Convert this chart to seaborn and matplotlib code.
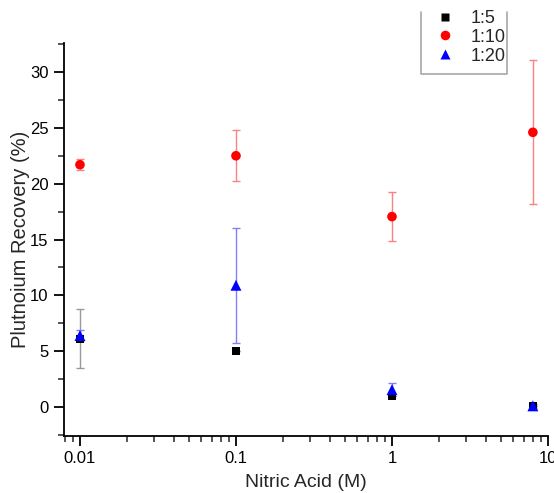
import matplotlib
matplotlib.use("Agg")
import matplotlib.pyplot as plt
import seaborn as sns
import pandas as pd
import numpy as np
from matplotlib.lines import Line2D
from matplotlib.ticker import FixedLocator, MultipleLocator, LogLocator, NullFormatter

sns.set_style("ticks")
plt.rcParams['font.family'] = ['Liberation Sans', 'DejaVu Sans']

acid = [0.01, 0.1, 1, 8]
ratios = ["1:5", "1:10", "1:20"]
rec_1_5 = [6.1, 5.05, 0.95, 0.05]
err_1_5 = [2.65, 0.0, 0.0, 0.0]
rec_1_10 = [21.7, 22.5, 17.05, 24.6]
err_1_10 = [0.5, 2.3, 2.2, 6.45]
rec_1_20 = [6.4, 10.9, 1.55, 0.1]
err_1_20 = [0.45, 5.15, 0.6, 0.15]

colors = {"1:5": "black", "1:10": "red", "1:20": "blue"}
ecolors = {"1:5": "#999999", "1:10": "#ff8080", "1:20": "#8080ff"}
markers = {"1:5": "s", "1:10": "o", "1:20": "^"}
msizes = {"1:5": 34, "1:10": 48, "1:20": 62}

df = pd.DataFrame({
    "acid": acid * 3,
    "recovery": rec_1_5 + rec_1_10 + rec_1_20,
    "err": err_1_5 + err_1_10 + err_1_20,
    "ratio": [r for r in ratios for _ in acid],
})

W, H = 554, 493
fig = plt.figure(figsize=(W / 100, H / 100), dpi=100)
ax = fig.add_axes([64 / W, (H - 436) / H, (548 - 64) / W, (436 - 43) / H])

for r in ratios:
    sub = df[df.ratio == r]
    ax.errorbar(sub.acid, sub.recovery, yerr=sub.err, fmt="none",
                ecolor=ecolors[r], elinewidth=1, capsize=3, capthick=1, zorder=2)

sns.scatterplot(data=df, x="acid", y="recovery", hue="ratio", style="ratio",
                size="ratio", sizes=msizes,
                palette=colors, markers=markers, edgecolor="none",
                ax=ax, zorder=3, legend=True)

ax.set_xscale("log")
ax.set_xlim(0.0079, 10)
ax.set_ylim(-2.6, 32.6)
ax.xaxis.set_major_locator(FixedLocator([0.01, 0.1, 1, 10]))
ax.set_xticklabels(["0.01", "0.1", "1", "10"])
ax.xaxis.set_minor_locator(LogLocator(base=10, subs=np.arange(2, 10)))
ax.xaxis.set_minor_formatter(NullFormatter())
ax.yaxis.set_major_locator(MultipleLocator(5))
ax.yaxis.set_minor_locator(MultipleLocator(2.5))

for s in ["top", "right"]:
    ax.spines[s].set_visible(False)
for s in ["left", "bottom"]:
    ax.spines[s].set_linewidth(1.3)
    ax.spines[s].set_color("black")
ax.tick_params(axis="both", which="major", direction="out", length=7, width=1.3,
               labelsize=12, colors="black", pad=4)
ax.tick_params(axis="both", which="minor", direction="out", length=4, width=1.1)

ax.set_xlabel("Nitric Acid (M)", fontsize=14)
ax.set_ylabel("Plutnoium Recovery (%)", fontsize=14.5)
ax.xaxis.set_label_coords(0.5, (436 - 474) / (436 - 43))
ax.yaxis.set_label_coords((30 - 64) / (548 - 64), 0.5)

h, l = ax.get_legend_handles_labels()
leg = ax.legend(h, l, loc="upper left", bbox_to_anchor=(438 / W, 1 - 10 / H),
                bbox_transform=fig.transFigure, frameon=False,
                fontsize=13, handletextpad=1.0, borderpad=0, labelspacing=0.1,
                handlelength=0.8, borderaxespad=0)

# legend box edges (top edge not shown in the reference)
xs = [421 / W, 421 / W, 507 / W, 507 / W]
ys = [1 - 12 / H, 1 - 74 / H, 1 - 74 / H, 1 - 12 / H]
fig.add_artist(Line2D(xs, ys, transform=fig.transFigure, color="#a8a8a8", lw=1.2))

fig.savefig("out.png", dpi=100)
